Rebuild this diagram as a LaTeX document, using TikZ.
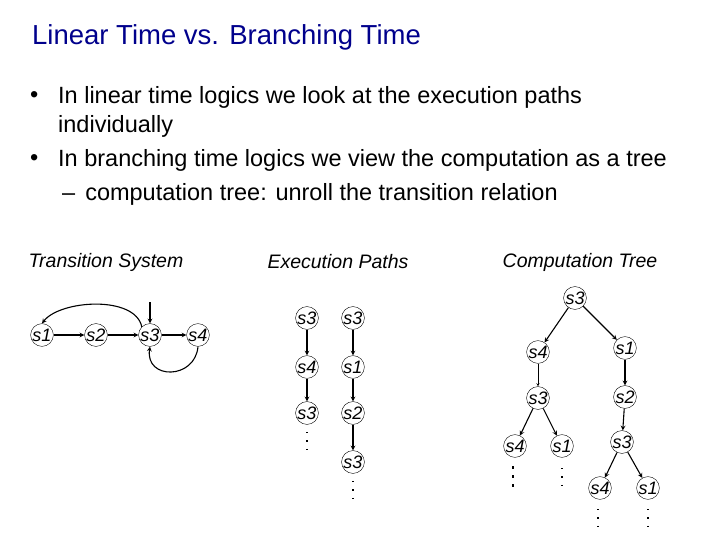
\documentclass[tikz,border=0pt]{standalone}
\usepackage{fontspec}
\setmainfont{Liberation Sans}
\begin{document}
\begin{tikzpicture}[x=1pt,y=-1pt,
  st/.style={circle,draw,thin,inner sep=0pt,minimum size=22pt,font=\itshape\fontsize{18}{18}\selectfont},
  ar/.style={->,>=stealth,line width=1.1pt},
  lab/.style={font=\itshape\fontsize{19.5}{22}\selectfont},
  bt/.style={anchor=west,inner sep=0pt,font=\fontsize{23.5}{26}\selectfont},
  dts/.style={line width=1.4pt,dash pattern=on 1.4pt off 7pt}]
\useasboundingbox (0,0) rectangle (720,540);
\node[anchor=west,inner sep=0pt,text=blue!55!black,font=\fontsize{27.5}{30}\selectfont] (title) at (32,37) {Linear Time vs. Branching Time};
\node[bt] (b1) at (30,97) {\textbullet};
\node[bt] (t1) at (58,97) {In linear time logics we look at the execution paths};
\node[bt] (t2) at (58,126) {individually};
\node[bt] (b2) at (30,160) {\textbullet};
\node[bt] (t3) at (58,160) {In branching time logics we view the computation as a tree};
\node[bt] (t4) at (62,194) {--\hspace{10pt}computation tree: unroll the transition relation};
\node[lab] (l1) at (106,262) {Transition System};
\node[lab] (l2) at (338,262) {Execution Paths};
\node[lab] (l3) at (580,262) {Computation Tree};
% transition system
\node[st] (a1) at (42,335) {s1};
\node[st] (a2) at (96,335) {s2};
\node[st] (a3) at (150,335) {s3};
\node[st] (a4) at (198,335) {s4};
\coordinate (init) at (150,302);
\draw[ar] (init) -- (a3);
\draw[ar] (a1) -- (a2); \draw[ar] (a2) -- (a3); \draw[ar] (a3) -- (a4);
\draw[ar] (a3.north west) .. controls (135,295) and (60,300) .. (a1.north);
\draw[ar] (a4.south) .. controls (195,380) and (145,380) .. (a3.south);
% execution paths
\node[st] (p1) at (307,318) {s3};
\node[st] (p2) at (307,367) {s4};
\node[st] (p3) at (307,413) {s3};
\draw[ar] (p1) -- (p2); \draw[ar] (p2) -- (p3);
\coordinate (pa) at (307,432); \coordinate (pb) at (307,452);
\draw[dts] (pa) -- (pb);
\node[st] (q1) at (353,318) {s3};
\node[st] (q2) at (353,367) {s1};
\node[st] (q3) at (353,413) {s2};
\node[st] (q4) at (353,462) {s3};
\draw[ar] (q1) -- (q2); \draw[ar] (q2) -- (q3); \draw[ar] (q3) -- (q4);
\coordinate (qa) at (353,481); \coordinate (qb) at (353,501);
\draw[dts] (qa) -- (qb);
% tree
\node[st] (t0) at (575,298) {s3};
\node[st] (u1) at (538,352) {s4};
\node[st] (u2) at (625,348) {s1};
\node[st] (u3) at (538,398) {s3};
\node[st] (u4) at (625,397) {s2};
\node[st] (u5) at (515,446) {s4};
\node[st] (u6) at (562,446) {s1};
\node[st] (u7) at (622,442) {s3};
\node[st] (u8) at (600,488) {s4};
\node[st] (u9) at (648,488) {s1};
\draw[ar] (t0) -- (u1); \draw[ar] (t0) -- (u2);
\draw[->,>=stealth] (u1) -- (u3); \draw[ar] (u2) -- (u4);
\draw[ar] (u3) -- (u5); \draw[ar] (u3) -- (u6);
\draw[ar] (u4) -- (u7);
\draw[ar] (u7) -- (u8); \draw[ar] (u7) -- (u9);
\coordinate (c5a) at (513,466); \coordinate (c5b) at (513,490);
\draw[line width=1.4pt,dash pattern=on 3pt off 6pt] (c5a) -- (c5b);
\coordinate (c6a) at (562,468); \coordinate (c6b) at (562,490);
\draw[dts] (c6a) -- (c6b);
\coordinate (c8a) at (598,509); \coordinate (c8b) at (598,530);
\draw[dts] (c8a) -- (c8b);
\coordinate (c9a) at (648,509); \coordinate (c9b) at (648,528);
\draw[dts] (c9a) -- (c9b);
\end{tikzpicture}
\end{document}
